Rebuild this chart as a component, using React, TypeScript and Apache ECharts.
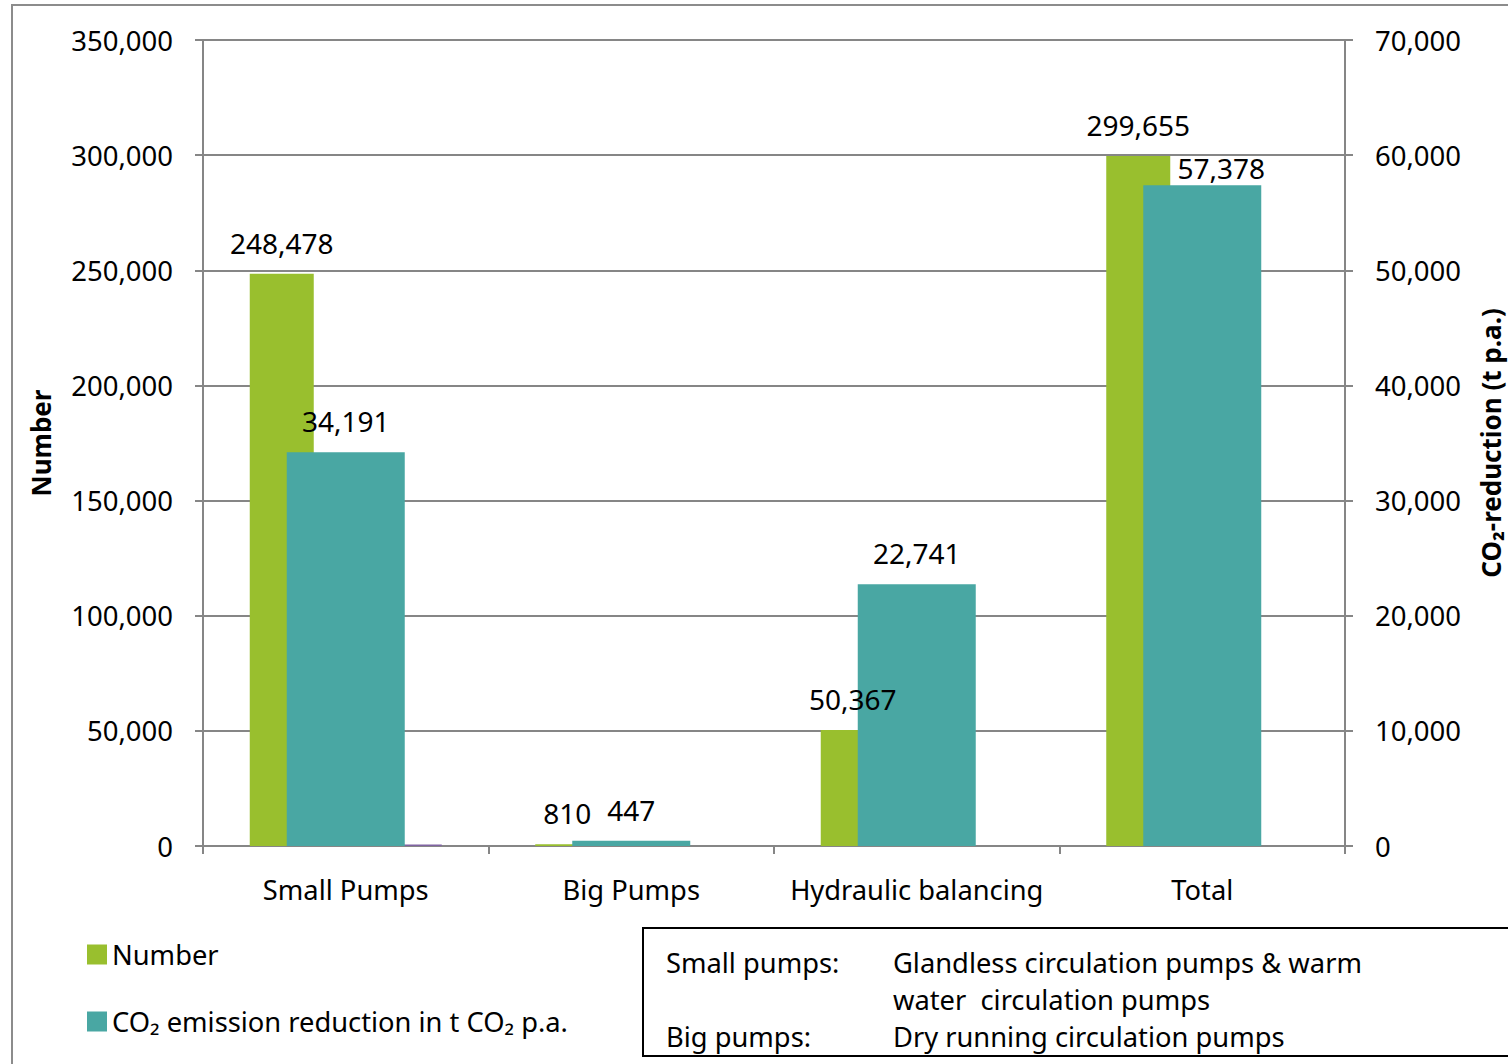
import React, { useEffect, useRef } from "react";
import * as echarts from "echarts";

const categories = ["Small Pumps", "Big Pumps", "Hydraulic balancing", "Total"];
const numberValues = [248478, 810, 50367, 299655];
const co2Values = [34191, 447, 22741, 57378];
const otherValues: (number | null)[] = [600, null, null, null];
const emptyValues: (number | null)[] = [null, null, null, null];

const leftMax = 350000;
const leftInterval = 50000;
const rightMax = 70000;
const rightInterval = 10000;

const noteLines = [
  ["Small pumps:", "Glandless circulation pumps & warm"],
  ["", "water  circulation pumps"],
  ["Big pumps:", "Dry running circulation pumps"],
];

const FONT = "Noto Sans";
const GREEN = "#99BF2E";
const TEAL = "#49A7A3";
const PURPLE = "#8064A2";
const GRID = "#868686";

const fmt = (v: number) => Number(v).toLocaleString("en-US");

export default function App() {
  const ref = useRef<HTMLDivElement>(null);
  useEffect(() => {
    if (!ref.current) return;
    const chart = echarts.init(ref.current, null, { renderer: "svg" });
    const labelStyle = {
      show: true,
      position: "top",
      distance: 17,
      color: "#000",
      fontSize: 28,
      fontFamily: FONT,
      formatter: (p: any) => fmt(p.value),
    };
    const noteGraphics: any[] = [];
    noteLines.forEach((row, i) => {
      const y = 962 + i * 37;
      if (row[0])
        noteGraphics.push({
          type: "text",
          x: 666,
          y,
          style: { text: row[0], font: `27.3px "${FONT}"`, fill: "#000", textVerticalAlign: "middle" },
        });
      noteGraphics.push({
        type: "text",
        x: 893,
        y,
        style: { text: row[1], font: `27.3px "${FONT}"`, fill: "#000", textVerticalAlign: "middle" },
      });
    });
    chart.setOption({
      animation: false,
      backgroundColor: "#fff",
      textStyle: { fontFamily: FONT },
      grid: {
        left: 203,
        right: 163,
        top: 40,
        bottom: 218,
        containLabel: false,
        outerBoundsMode: "none",
      },
      legend: {
        orient: "vertical",
        left: 87,
        top: 941,
        padding: 0,
        itemWidth: 20,
        itemHeight: 20,
        itemGap: 40,
        icon: "rect",
        data: ["Number", "CO₂ emission reduction in t CO₂ p.a."],
        textStyle: { fontSize: 27.3, fontFamily: FONT, color: "#000", padding: [0, 0, 0, 0] },
      },
      xAxis: [
        {
          type: "category",
          data: categories,
          axisLine: { show: true, lineStyle: { color: GRID, width: 2 } },
          axisTick: { show: true, interval: 0, length: 8, lineStyle: { color: GRID, width: 2 } },
          axisLabel: { interval: 0, fontSize: 27.3, fontFamily: FONT, color: "#000", margin: 30 },
        },
        { type: "category", data: categories, show: false },
      ],
      yAxis: [
        {
          type: "value",
          min: 0,
          max: leftMax,
          interval: leftInterval,
          name: "Number",
          nameLocation: "middle",
          nameRotate: 90,
          nameGap: 149,
          nameTextStyle: { fontSize: 26, fontWeight: "bold", fontFamily: FONT, color: "#000" },
          axisLine: { show: true, lineStyle: { color: GRID, width: 2 } },
          axisTick: { show: true, length: 8, lineStyle: { color: GRID, width: 2 } },
          splitLine: { show: true, lineStyle: { color: GRID, width: 2 } },
          axisLabel: { fontSize: 27.5, fontFamily: FONT, color: "#000", margin: 30, formatter: fmt },
        },
        {
          type: "value",
          min: 0,
          max: rightMax,
          interval: rightInterval,
          position: "right",
          name: "CO₂-reduction (t p.a.)",
          nameLocation: "middle",
          nameRotate: 90,
          nameGap: 133,
          nameTextStyle: { fontSize: 26, fontWeight: "bold", fontFamily: FONT, color: "#000" },
          axisLine: { show: true, lineStyle: { color: GRID, width: 2 } },
          axisTick: { show: true, length: 8, lineStyle: { color: GRID, width: 2 } },
          splitLine: { show: false },
          axisLabel: { fontSize: 27.5, fontFamily: FONT, color: "#000", margin: 30, formatter: fmt },
        },
      ],
      series: [
        {
          name: "Number",
          type: "bar",
          xAxisIndex: 0,
          yAxisIndex: 0,
          barWidth: 64,
          barGap: "0%",
          itemStyle: { color: GREEN },
          label: labelStyle,
          data: numberValues,
          z: 2,
        },
        {
          name: "",
          type: "bar",
          xAxisIndex: 0,
          yAxisIndex: 0,
          barWidth: 64,
          data: emptyValues,
          z: 2,
        },
        {
          name: "Other",
          type: "bar",
          xAxisIndex: 0,
          yAxisIndex: 0,
          barWidth: 64,
          itemStyle: { color: PURPLE },
          data: otherValues,
          z: 2,
        },
        {
          name: "CO₂ emission reduction in t CO₂ p.a.",
          type: "bar",
          xAxisIndex: 1,
          yAxisIndex: 1,
          barWidth: 118,
          itemStyle: { color: TEAL },
          label: labelStyle,
          z: 2,
          data: co2Values.map((v, i) =>
            i === co2Values.length - 1 ? { value: v, label: { offset: [19, 14] } } : v
          ),
        },
      ],
      graphic: [
        {
          type: "rect",
          shape: { x: 12, y: 5, width: 1600, height: 1200 },
          style: { fill: "none", stroke: "#8c8c8c", lineWidth: 2 },
          silent: true,
          z: -10,
        },
        {
          type: "rect",
          shape: { x: 643, y: 928, width: 900, height: 128 },
          style: { fill: "#fff", stroke: "#000", lineWidth: 2 },
          silent: true,
        },
        ...noteGraphics,
      ],
    });
    return () => chart.dispose();
  }, []);
  return (
    <div
      ref={ref}
      style={{ position: "fixed", left: 0, top: 0, width: 1508, height: 1064 }}
    />
  );
}
